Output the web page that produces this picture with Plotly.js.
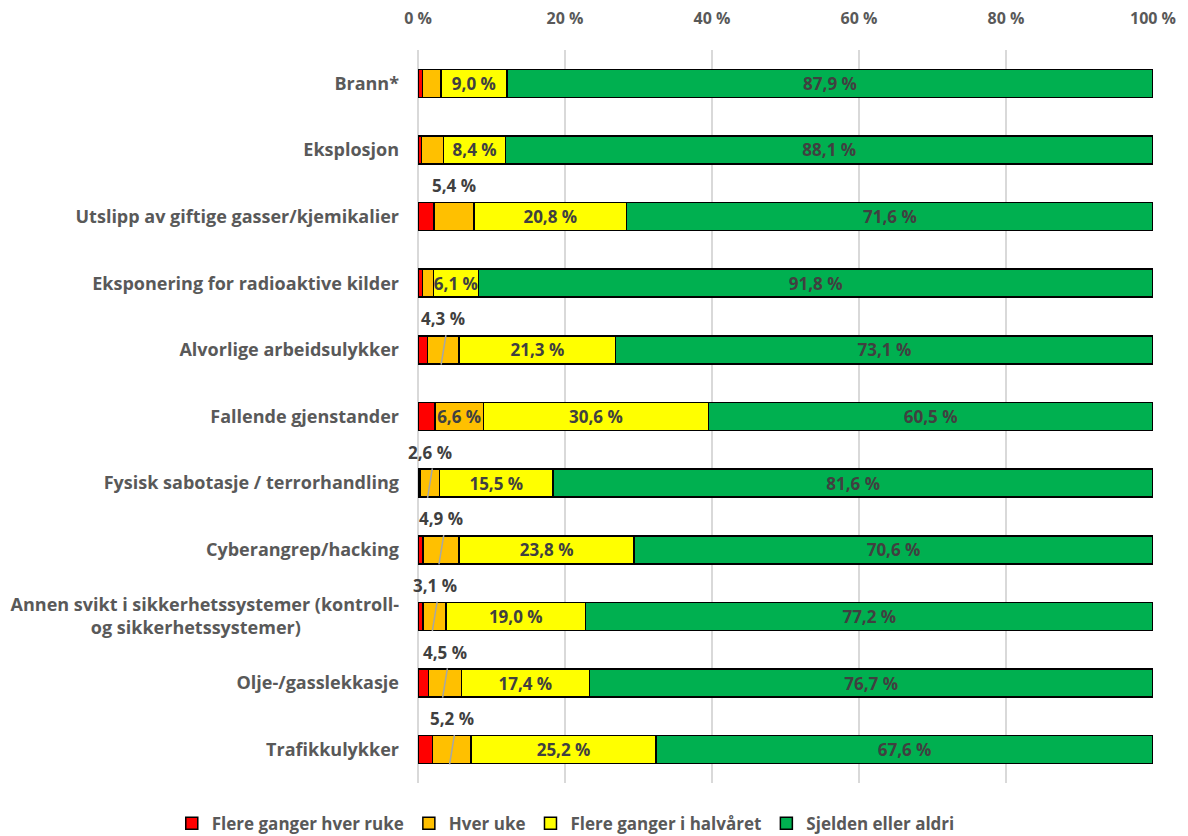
<!DOCTYPE html>
<html>
<head>
<meta charset="utf-8">
<script src="https://cdn.plot.ly/plotly-3.0.1.min.js"></script>
<style>html,body{margin:0;padding:0;background:#fff;}#chart{width:1188px;height:836px;}</style>
</head>
<body>
<div id="chart"></div>
<script>
const categories = [
  "Brann*",
  "Eksplosjon",
  "Utslipp av giftige gasser/kjemikalier",
  "Eksponering for radioaktive kilder",
  "Alvorlige arbeidsulykker",
  "Fallende gjenstander",
  "Fysisk sabotasje / terrorhandling",
  "Cyberangrep/hacking",
  "Annen svikt i sikkerhetssystemer (kontroll-<br>og sikkerhetssystemer)",
  "Olje-/gasslekkasje",
  "Trafikkulykker"
];
const seriesNames = ["Flere ganger hver ruke", "Hver uke", "Flere ganger i halvåret", "Sjelden eller aldri"];
const flereUke   = [0.6, 0.5, 2.2, 0.6, 1.3, 2.3, 0.3, 0.7, 0.7, 1.4, 2.0];
const hverUke    = [2.5, 3.0, 5.4, 1.5, 4.3, 6.6, 2.6, 4.9, 3.1, 4.5, 5.2];
const halvaaret  = [9.0, 8.4, 20.8, 6.1, 21.3, 30.6, 15.5, 23.8, 19.0, 17.4, 25.2];
const sjelden    = [87.9, 88.1, 71.6, 91.8, 73.1, 60.5, 81.6, 70.6, 77.2, 76.7, 67.6];
// how the "Hver uke" label is shown: inside the bar, above the bar, above with leader line, or hidden
const hverUkeLabel = ["none","none","above","none","leader","inside","leader","leader","leader","leader","leader"];
const tickVals = [0, 20, 40, 60, 80, 100];

const colors = ["#ff0000", "#ffc000", "#ffff00", "#00b050"];
const txtColor = "#404040";
const axColor = "#595959";
const font = "Open Sans, sans-serif";
const fmt = v => v.toFixed(1).replace(".", ",") + " %";
// centre the lines of a multi-line category label (tick labels are right-aligned)
const centreLines = s => {
  const parts = s.split("<br>");
  if (parts.length < 2) return s;
  const maxLen = Math.max(...parts.map(p => p.length));
  return parts.map(p => p + "\u00a0".repeat(Math.round((maxLen - p.length) * 1.0))).join("<br>");
};

const allVals = [flereUke, hverUke, halvaaret, sjelden];
const traces = allVals.map((vals, k) => {
  let text;
  if (k === 0) text = vals.map(() => "");
  else if (k === 1) text = vals.map((v, i) => hverUkeLabel[i] === "inside" ? fmt(v) : "");
  else text = vals.map(fmt);
  return {
    type: "bar",
    orientation: "h",
    name: seriesNames[k],
    y: categories,
    x: vals,
    text: text,
    textposition: "inside",
    insidetextanchor: "middle",
    textangle: 0,
    constraintext: "none",
    cliponaxis: false,
    textfont: {family: font, size: 17, color: txtColor, weight: "bold"},
    marker: {color: colors[k], line: {color: "#000000", width: 1.5}},
    hoverinfo: "skip"
  };
});

const annotations = [];
const shapes = [];
categories.forEach((c, i) => {
  const mode = hverUkeLabel[i];
  if (mode === "above" || mode === "leader") {
    const mid = flereUke[i] + hverUke[i] / 2;
    annotations.push({
      x: mid, y: c, xref: "x", yref: "y",
      text: fmt(hverUke[i]), showarrow: false,
      yshift: 31,
      font: {family: font, size: 17, color: txtColor, weight: "bold"}
    });
    if (mode === "leader") {
      shapes.push({
        type: "line", xref: "x", yref: "y",
        x0: mid + 0.35, x1: mid - 0.3,
        y0: i - 0.22, y1: i + 0.22,
        line: {color: "#a6a6a6", width: 1.5},
        layer: "above"
      });
    }
  }
});

const layout = {
  width: 1188, height: 836,
  margin: {l: 418, r: 35, t: 50, b: 53, autoexpand: false},
  barmode: "stack",
  bargap: 0.58,
  paper_bgcolor: "#ffffff",
  plot_bgcolor: "#ffffff",
  font: {family: font, color: axColor},
  showlegend: true,
  uniformtext: {mode: "show", minsize: 17},
  legend: {
    orientation: "h", xref: "paper", yref: "paper",
    x: -0.335, xanchor: "left", y: -0.031, yanchor: "top",
    font: {family: font, size: 17, color: axColor, weight: "bold"},
    traceorder: "normal"
  },
  xaxis: {
    side: "top", range: [0, 100], tickvals: tickVals,
    ticktext: tickVals.map(v => v + " %"),
    showgrid: true, gridcolor: "#d9d9d9", gridwidth: 1.5,
    zeroline: true, zerolinecolor: "#d9d9d9", zerolinewidth: 1.5,
    showline: false, ticks: "", ticklabelstandoff: 22, automargin: false,
    tickfont: {family: font, size: 16, color: axColor, weight: "bold"},
    fixedrange: true
  },
  yaxis: {
    type: "category", autorange: false,
    range: [categories.length - 0.5, -0.5],
    tickvals: categories, ticktext: categories.map(centreLines),
    showgrid: false, zeroline: false, showline: false, ticks: "",
    ticklabelstandoff: 18, automargin: false,
    tickfont: {family: font, size: 18, color: axColor, weight: "bold"},
    fixedrange: true
  },
  annotations: annotations,
  shapes: shapes
};

Plotly.newPlot("chart", traces, layout, {displayModeBar: false, staticPlot: true});
</script>
</body>
</html>
